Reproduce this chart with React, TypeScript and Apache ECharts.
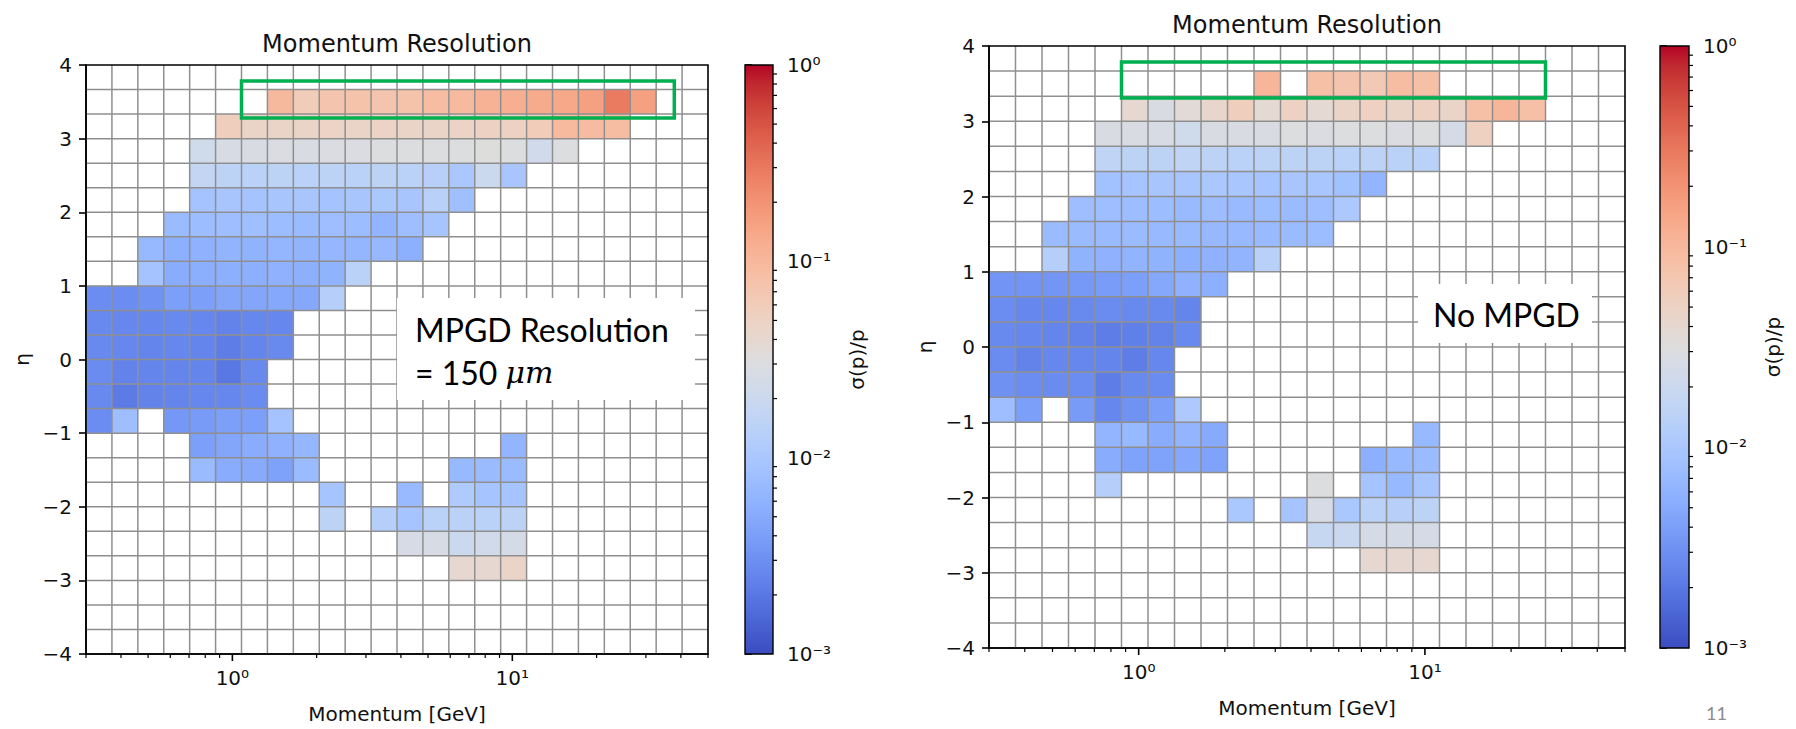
import React, { useEffect, useRef } from "react";
import * as echarts from "echarts";

// ---------- binning (log-spaced momentum bins, linear eta bins) ----------
const P_MIN = 0.3;
const P_MAX = 50;
const N_P_BINS = 24;
const ETA_MIN = -4;
const ETA_MAX = 4;
const N_ETA_BINS = 24;
const pEdges = Array.from({ length: N_P_BINS + 1 }, (_, i) => P_MIN * Math.pow(P_MAX / P_MIN, i / N_P_BINS));
const etaEdges = Array.from({ length: N_ETA_BINS + 1 }, (_, i) => ETA_MIN + ((ETA_MAX - ETA_MIN) * i) / N_ETA_BINS);

// ---------- axis ticks ----------
const X_MAJOR_TICKS = [1, 10];
const X_MINOR_TICKS = [0.3, 0.4, 0.5, 0.6, 0.7, 0.8, 0.9, 2, 3, 4, 5, 6, 7, 8, 9, 20, 30, 40, 50];
const CBAR_MIN = 0.001;
const CBAR_MAX = 1;
const CBAR_MINOR_TICKS = [
  0.002, 0.003, 0.004, 0.005, 0.006, 0.007, 0.008, 0.009,
  0.02, 0.03, 0.04, 0.05, 0.06, 0.07, 0.08, 0.09,
  0.2, 0.3, 0.4, 0.5, 0.6, 0.7, 0.8, 0.9,
];

// coolwarm colormap
const COOLWARM = [
  "#3b4cc0", "#445acc", "#4d68d7", "#5775e1", "#6282ea", "#6c8ef1", "#779af7", "#82a5fb",
  "#8db0fe", "#98b9ff", "#a3c2ff", "#aec9fd", "#b8d0f9", "#c2d5f4", "#ccd9ee", "#d5dbe6",
  "#dddddd", "#e5d8d1", "#ecd3c5", "#f1ccb9", "#f5c4ad", "#f7bba0", "#f7b194", "#f7a687",
  "#f49a7b", "#f18d6f", "#ec7f63", "#e57058", "#de604d", "#d55042", "#cb3e38", "#c0282f", "#b40426",
];

// ---------- sigma(p)/p per cell : [eta bin, first momentum bin, values] ----------
type Row = [number, number, (number | null)[]];
const leftResolution: Row[] = [
  [22, 7, [0.098, 0.06, 0.074, 0.079, 0.074, 0.079, 0.089, 0.095, 0.112, 0.12, 0.129, 0.138, 0.16, 0.288, 0.16]],
  [21, 5, [0.056, 0.046, 0.046, 0.046, 0.048, 0.046, 0.048, 0.046, 0.046, 0.048, 0.05, 0.05, 0.06, 0.095, 0.092, 0.089]],
  [20, 4, [0.022, 0.027, 0.028, 0.029, 0.028, 0.029, 0.029, 0.03, 0.03, 0.031, 0.031, 0.032, 0.031, 0.023, 0.031]],
  [19, 4, [0.017, 0.015, 0.014, 0.015, 0.014, 0.015, 0.014, 0.015, 0.014, 0.013, 0.01, 0.02, 0.0095]],
  [18, 4, [0.009, 0.0095, 0.009, 0.0095, 0.0095, 0.009, 0.0095, 0.01, 0.0095, 0.0135, 0.008]],
  [17, 3, [0.0074, 0.0076, 0.0078, 0.008, 0.0076, 0.0074, 0.0078, 0.0076, 0.0063, 0.0079, 0.0092]],
  [16, 2, [0.0069, 0.0056, 0.0058, 0.0062, 0.006, 0.0064, 0.0062, 0.0066, 0.0064, 0.0068, 0.0056]],
  [15, 2, [0.009, 0.0052, 0.0054, 0.0056, 0.0055, 0.0058, 0.0056, 0.006, 0.0138]],
  [14, 0, [0.0029, 0.0029, 0.0032, 0.004, 0.004, 0.0046, 0.0046, 0.0048, 0.0048, 0.0129]],
  [13, 0, [0.0027, 0.0026, 0.0026, 0.0027, 0.0026, 0.0024, 0.0026, 0.0026]],
  [12, 0, [0.0027, 0.0026, 0.0025, 0.0026, 0.0025, 0.0022, 0.0025, 0.0027]],
  [11, 0, [0.0028, 0.0024, 0.0025, 0.0025, 0.0025, 0.002, 0.0027]],
  [10, 0, [0.0027, 0.0021, 0.0024, 0.0025, 0.0026, 0.0026, 0.0028]],
  [9, 0, [0.0029, 0.0079, null, 0.0035, 0.0037, 0.004, 0.004, 0.009]],
  [8, 4, [0.004, 0.0046, 0.0052, 0.0058, 0.0066]],
  [8, 16, [0.0063]],
  [7, 4, [0.0074, 0.0052, 0.005, 0.0042, 0.0074]],
  [7, 14, [0.0069, 0.0074, 0.0074]],
  [6, 9, [0.0091]],
  [6, 12, [0.0072]],
  [6, 14, [0.011, 0.0091, 0.0091]],
  [5, 9, [0.015]],
  [5, 11, [0.0129, 0.0091, 0.014, 0.014, 0.014, 0.015]],
  [4, 12, [0.026, 0.027, 0.02, 0.023, 0.025]],
  [3, 14, [0.04, 0.04, 0.046]],
];

const rightResolution: Row[] = [
  [22, 10, [0.105, null, 0.083, 0.074, 0.065, 0.089, 0.083]],
  [21, 5, [0.04, 0.028, 0.036, 0.043, 0.056, 0.038, 0.05, 0.038, 0.046, 0.052, 0.046, 0.05, 0.046, 0.083, 0.105, 0.083]],
  [20, 4, [0.028, 0.028, 0.027, 0.022, 0.028, 0.028, 0.028, 0.03, 0.029, 0.03, 0.03, 0.029, 0.031, 0.025, 0.052]],
  [19, 4, [0.016, 0.015, 0.015, 0.016, 0.015, 0.014, 0.015, 0.015, 0.015, 0.014, 0.015, 0.014, 0.014]],
  [18, 4, [0.0085, 0.0091, 0.0095, 0.0095, 0.01, 0.0098, 0.0091, 0.0095, 0.0098, 0.0085, 0.0063]],
  [17, 3, [0.0079, 0.0079, 0.0076, 0.0076, 0.0072, 0.0076, 0.0072, 0.0076, 0.0074, 0.0079, 0.0105]],
  [16, 2, [0.0074, 0.0074, 0.0072, 0.0074, 0.007, 0.0072, 0.0068, 0.007, 0.0072, 0.0074, 0.0076]],
  [15, 2, [0.0125, 0.006, 0.0058, 0.0062, 0.006, 0.0056, 0.0058, 0.0062, 0.0135]],
  [14, 0, [0.0033, 0.0033, 0.0034, 0.0036, 0.0038, 0.004, 0.0048, 0.0058, 0.0056]],
  [13, 0, [0.0029, 0.0026, 0.0026, 0.0027, 0.0028, 0.0027, 0.0027, 0.0025]],
  [12, 0, [0.0027, 0.0026, 0.0025, 0.0024, 0.0022, 0.0023, 0.0024, 0.0027]],
  [11, 0, [0.0028, 0.0024, 0.0026, 0.0026, 0.0025, 0.0022, 0.0026]],
  [10, 0, [0.0031, 0.0029, 0.0028, 0.0029, 0.0022, 0.0027, 0.0028]],
  [9, 0, [0.0079, 0.004, null, 0.0037, 0.0026, 0.0032, 0.004, 0.0107]],
  [8, 4, [0.0063, 0.0069, 0.0052, 0.0063, 0.005]],
  [8, 16, [0.0069]],
  [7, 4, [0.0052, 0.0043, 0.0043, 0.0048, 0.0043]],
  [7, 14, [0.0056, 0.0069, 0.0074]],
  [6, 4, [0.0129]],
  [6, 12, [0.031]],
  [6, 14, [0.0091, 0.0069, 0.0095]],
  [5, 9, [0.01]],
  [5, 11, [0.0091, 0.026, 0.01, 0.014, 0.013, 0.015]],
  [4, 12, [0.018, 0.0195, 0.025, 0.025, 0.025]],
  [3, 14, [0.04, 0.04, 0.04]],
];

// ---------- layout ----------
const FONT = "DejaVu Sans";
const PANELS = [
  {
    rows: leftResolution,
    plot: { left: 86, top: 65, width: 622, height: 589 },
    cbar: { left: 745, width: 28 },
    title: "Momentum Resolution",
    box: { x: 397, y: 298, w: 298, h: 102 },
    green: { c0: 6, c1: 22.7, y0: 81, y1: 118 },
  },
  {
    rows: rightResolution,
    plot: { left: 989, top: 46, width: 636, height: 602 },
    cbar: { left: 1660, width: 29 },
    title: "Momentum Resolution",
    box: { x: 1418, y: 284, w: 174, h: 59 },
    green: { c0: 5, c1: 21, y0: 62, y1: 98 },
  },
];

const SUPS: Record<string, string> = {
  "0": "⁰", "1": "¹", "2": "²", "3": "³", "4": "⁴", "5": "⁵", "6": "⁶", "7": "⁷", "8": "⁸", "9": "⁹", "-": "⁻",
};
const powLabel = (v: number) => {
  const e = Math.log10(v);
  const r = Math.round(e);
  if (Math.abs(e - r) > 1e-6) return "";
  return "10" + String(r).split("").map((c) => SUPS[c] ?? c).join("");
};
const etaLabel = (v: number) => (v < 0 ? "\u2212" + Math.abs(v) : String(v));

const cellsFrom = (rows: Row[]) => {
  const out: number[][] = [];
  rows.forEach(([r, c0, vals]) =>
    vals.forEach((v, k) => {
      if (v == null) return;
      const c = c0 + k;
      out.push([pEdges[c], pEdges[c + 1], etaEdges[r], etaEdges[r + 1], Math.log10(v)]);
    })
  );
  return out;
};

function buildOption() {
  const grid: any[] = [];
  const xAxis: any[] = [];
  const yAxis: any[] = [];
  const series: any[] = [];
  const visualMap: any[] = [];
  const graphic: any[] = [];

  PANELS.forEach((pn, i) => {
    const gMain = i * 2;
    const gBar = i * 2 + 1;
    grid.push({ ...pn.plot, outerBoundsMode: "none", containLabel: false });
    grid.push({ left: pn.cbar.left, top: pn.plot.top, width: pn.cbar.width, height: pn.plot.height, outerBoundsMode: "none", containLabel: false });

    xAxis.push({
      type: "log", logBase: 10, gridIndex: gMain, min: P_MIN, max: P_MAX,
      name: "Momentum [GeV]", nameLocation: "middle", nameGap: 50,
      nameTextStyle: { fontFamily: FONT, fontSize: 20, color: "#111" },
      axisLine: { show: true, onZero: false, lineStyle: { color: "#000", width: 1.6 } },
      axisTick: { show: false },
      splitLine: { show: false },
      minorTick: { show: false },
      axisLabel: { formatter: powLabel, fontFamily: FONT, fontSize: 20, color: "#111", margin: 14, showMinLabel: true, showMaxLabel: true },
    });
    xAxis.push({ type: "value", gridIndex: gBar, min: 0, max: 1, show: false });

    yAxis.push({
      type: "value", gridIndex: gMain, min: ETA_MIN, max: ETA_MAX, interval: 1,
      name: "η", nameLocation: "middle", nameGap: 54, nameRotate: 90,
      nameTextStyle: { fontFamily: FONT, fontSize: 20, color: "#111" },
      axisLine: { show: true, lineStyle: { color: "#000", width: 1.6 } },
      axisTick: { show: true, length: 7, lineStyle: { color: "#000", width: 1.6 } },
      splitLine: { show: false },
      axisLabel: { formatter: etaLabel, fontFamily: FONT, fontSize: 20, color: "#111", margin: 14 },
    });
    yAxis.push({
      type: "log", logBase: 10, gridIndex: gBar, min: CBAR_MIN, max: CBAR_MAX, position: "right",
      name: "σ(p)/p", nameLocation: "middle", nameGap: 74, nameRotate: 90,
      nameTextStyle: { fontFamily: FONT, fontSize: 20, color: "#111" },
      axisLine: { show: false },
      axisTick: { show: true, length: 7, lineStyle: { color: "#000", width: 1.6 } },
      splitLine: { show: false },
      axisLabel: { formatter: powLabel, fontFamily: FONT, fontSize: 20, color: "#111", margin: 14 },
    });

    const xi = gMain, yi = gMain;
    // cells
    visualMap.push({
      type: "continuous", show: false, min: -3, max: 0, dimension: 4,
      seriesIndex: series.length, inRange: { color: COOLWARM },
    });
    series.push({
      type: "custom", xAxisIndex: xi, yAxisIndex: yi, clip: false, z: 2,
      encode: { x: [0, 1], y: [2, 3] },
      data: cellsFrom(pn.rows),
      renderItem: (params: any, api: any) => {
        const a = api.coord([api.value(0), api.value(3)]);
        const b = api.coord([api.value(1), api.value(2)]);
        return { type: "rect", shape: { x: a[0], y: a[1], width: b[0] - a[0], height: b[1] - a[1] }, style: { fill: api.visual("color") } };
      },
    });
    // vertical grid lines (momentum bin edges)
    series.push({
      type: "custom", xAxisIndex: xi, yAxisIndex: yi, clip: false, z: 3, silent: true,
      encode: { x: 0, y: 1 },
      data: pEdges.slice(1, -1).map((p) => [p, 0]),
      renderItem: (params: any, api: any) => {
        const a = api.coord([api.value(0), ETA_MIN]);
        const b = api.coord([api.value(0), ETA_MAX]);
        return { type: "line", shape: { x1: a[0], y1: a[1], x2: b[0], y2: b[1] }, style: { stroke: "#8f8f8f", lineWidth: 1.5 } };
      },
    });
    // horizontal grid lines (eta bin edges)
    series.push({
      type: "custom", xAxisIndex: xi, yAxisIndex: yi, clip: false, z: 3, silent: true,
      encode: { x: 0, y: 1 },
      data: etaEdges.slice(1, -1).map((e) => [1, e]),
      renderItem: (params: any, api: any) => {
        const a = api.coord([P_MIN, api.value(1)]);
        const b = api.coord([P_MAX, api.value(1)]);
        return { type: "line", shape: { x1: a[0], y1: a[1], x2: b[0], y2: b[1] }, style: { stroke: "#8f8f8f", lineWidth: 1.5 } };
      },
    });
    // axes frame
    series.push({
      type: "custom", xAxisIndex: xi, yAxisIndex: yi, clip: false, z: 4, silent: true,
      encode: { x: 0, y: 1 },
      data: [[P_MIN, ETA_MIN]],
      renderItem: (params: any, api: any) => {
        const a = api.coord([P_MIN, ETA_MAX]);
        const b = api.coord([P_MAX, ETA_MIN]);
        return { type: "rect", shape: { x: a[0], y: a[1], width: b[0] - a[0], height: b[1] - a[1] }, style: { fill: "none", stroke: "#000", lineWidth: 1.6 } };
      },
    });
    // x ticks (major / minor)
    const tickSeries = (vals: number[], len: number, w: number) => ({
      type: "custom", xAxisIndex: xi, yAxisIndex: yi, clip: false, z: 4, silent: true,
      encode: { x: 0, y: 1 },
      data: vals.map((v) => [v, ETA_MIN]),
      renderItem: (params: any, api: any) => {
        const a = api.coord([api.value(0), ETA_MIN]);
        return { type: "line", shape: { x1: a[0], y1: a[1], x2: a[0], y2: a[1] + len }, style: { stroke: "#000", lineWidth: w } };
      },
    });
    series.push(tickSeries(X_MAJOR_TICKS, 7, 1.6));
    series.push(tickSeries(X_MINOR_TICKS, 4, 1.2));

    // colorbar
    const stops = COOLWARM.map((c, k) => ({ offset: k / (COOLWARM.length - 1), color: c }));
    series.push({
      type: "custom", xAxisIndex: gBar, yAxisIndex: gBar, clip: false, z: 2, silent: true,
      encode: { x: 0, y: 1 },
      data: [[0, CBAR_MIN]],
      renderItem: (params: any, api: any) => {
        const a = api.coord([0, CBAR_MAX]);
        const b = api.coord([1, CBAR_MIN]);
        return {
          type: "rect",
          shape: { x: a[0], y: a[1], width: b[0] - a[0], height: b[1] - a[1] },
          style: { fill: new echarts.graphic.LinearGradient(0, 1, 0, 0, stops), stroke: "#000", lineWidth: 1.4 },
        };
      },
    });
    series.push({
      type: "custom", xAxisIndex: gBar, yAxisIndex: gBar, clip: false, z: 3, silent: true,
      encode: { x: 0, y: 1 },
      data: CBAR_MINOR_TICKS.map((v) => [1, v]),
      renderItem: (params: any, api: any) => {
        const a = api.coord([1, api.value(1)]);
        return { type: "line", shape: { x1: a[0], y1: a[1], x2: a[0] + 4, y2: a[1] }, style: { stroke: "#000", lineWidth: 1.2 } };
      },
    });

    // title
    graphic.push({
      type: "text", z: 100, x: pn.plot.left + pn.plot.width / 2, y: pn.plot.top - 21,
      style: { text: pn.title, font: `24px "${FONT}"`, fill: "#111", align: "center", verticalAlign: "middle" },
    });
    // white annotation box
    graphic.push({
      type: "rect", z: 100, shape: { x: pn.box.x, y: pn.box.y, width: pn.box.w, height: pn.box.h },
      style: { fill: "#ffffff" },
    });
    // green highlight
    const colW = pn.plot.width / N_P_BINS;
    graphic.push({
      type: "rect", z: 101,
      shape: { x: pn.plot.left + pn.green.c0 * colW, y: pn.green.y0, width: (pn.green.c1 - pn.green.c0) * colW, height: pn.green.y1 - pn.green.y0 },
      style: { fill: "none", stroke: "#00b050", lineWidth: 3.5 },
    });
  });

  graphic.push({
    type: "text", z: 102, x: 415, y: 329,
    style: { text: "MPGD Resolution", font: '32px "Lato"', fill: "#000", align: "left", verticalAlign: "middle" },
  });
  graphic.push({
    type: "text", z: 102, x: 415, y: 372,
    style: {
      text: "{a|= 150 }{b|μm}", align: "left", verticalAlign: "middle",
      rich: {
        a: { fontFamily: "Lato", fontSize: 32, fill: "#000", color: "#000" },
        b: { fontFamily: "DejaVu Serif", fontStyle: "italic", fontSize: 30, fill: "#000", color: "#000" },
      },
    },
  });
  graphic.push({
    type: "text", z: 102, x: 1433, y: 314,
    style: { text: "No MPGD", font: '32px "Lato"', fill: "#000", align: "left", verticalAlign: "middle" },
  });
  graphic.push({
    type: "text", z: 102, x: 1706, y: 704,
    style: { text: "11", font: '18px "Lato"', fill: "#8c8c8c", align: "left", verticalAlign: "top" },
  });

  return { animation: false, backgroundColor: "#ffffff", grid, xAxis, yAxis, series, visualMap, graphic };
}

export default function App() {
  const ref = useRef<HTMLDivElement>(null);
  useEffect(() => {
    if (!ref.current) return;
    const chart = echarts.init(ref.current, undefined, { renderer: "svg" });
    chart.setOption(buildOption() as any);
    return () => chart.dispose();
  }, []);
  return (
    <div
      ref={ref}
      style={{ position: "fixed", left: 0, top: 0, width: 1796, height: 729, background: "#fff" }}
    />
  );
}
